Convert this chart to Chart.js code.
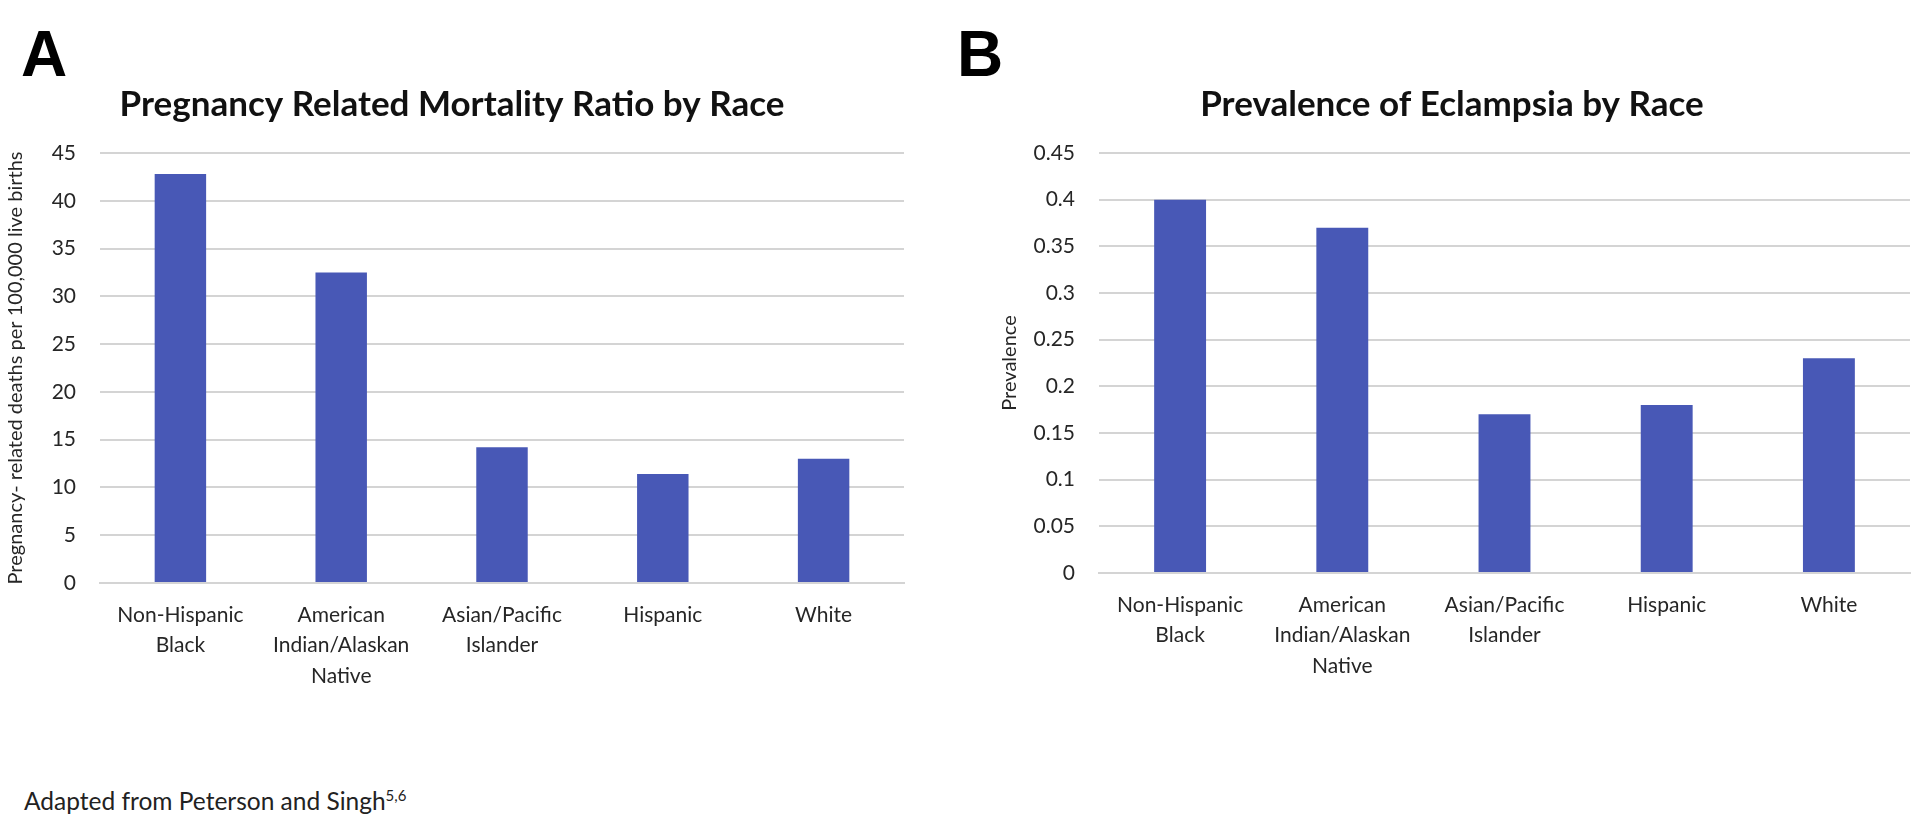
<!DOCTYPE html>
<html>
<head>
<meta charset="utf-8">
<script src="https://cdn.jsdelivr.net/npm/chart.js@4.4.0/dist/chart.umd.min.js"></script>
<style>
  html, body { margin: 0; padding: 0; background: #fff; }
  body { width: 1920px; height: 825px; position: relative; overflow: hidden; font-family: Lato, sans-serif; }
  .panel { position: absolute; }
  .letter { position: absolute; font-family: "Liberation Sans", Arial, sans-serif; font-weight: bold; font-size: 64px; color: #000; line-height: 1; }
  #note { position: absolute; left: 24px; top: 786px; font-size: 24.5px; color: #222; }
  #note sup { font-size: 15px; }
</style>
</head>
<body>
<div class="letter" style="left:21px; top:22px;">A</div>
<div class="letter" style="left:957px; top:22px;">B</div>
<div class="panel" style="left:0; top:0; width:920px; height:703px;"><canvas id="chartA"></canvas></div>
<div class="panel" style="left:960px; top:0; width:960px; height:693px;"><canvas id="chartB"></canvas></div>
<div id="note">Adapted from Peterson and Singh<sup>5,6</sup></div>

<script>
const racas = [
  ['Non-Hispanic', 'Black'],
  ['American', 'Indian/Alaskan', 'Native'],
  ['Asian/Pacific', 'Islander'],
  'Hispanic',
  'White'
];
const mortalidade = [42.8, 32.5, 14.2, 11.4, 13.0];
const eclampsia = [0.40, 0.37, 0.17, 0.18, 0.23];

const ticksA = [0, 5, 10, 15, 20, 25, 30, 35, 40, 45];
const ticksB = [0, 0.05, 0.1, 0.15, 0.2, 0.25, 0.3, 0.35, 0.4, 0.45];

const azul = '#4858b6';
const cinza = '#d4d4d4';

Chart.defaults.font.family = 'Lato, sans-serif';
Chart.defaults.color = '#262626';
Chart.defaults.animation = false;

function gerarGrafico(id, titulo, dados, marcas, eixoY, larguraY, padEsq, padDir) {
  const ctx = document.getElementById(id).getContext('2d');
  return new Chart(ctx, {
    type: 'bar',
    data: {
      labels: racas,
      datasets: [{
        data: dados,
        backgroundColor: azul,
        borderWidth: 0,
        categoryPercentage: 1,
        barPercentage: 0.32
      }]
    },
    options: {
      responsive: true,
      maintainAspectRatio: false,
      layout: { padding: { left: padEsq, right: padDir, top: 0, bottom: 0 } },
      plugins: {
        legend: { display: false },
        tooltip: { enabled: false },
        title: {
          display: true,
          text: titulo,
          color: '#111',
          font: { size: 35, weight: 'bold' },
          padding: { top: 84, bottom: 27 }
        }
      },
      scales: {
        x: {
          grid: { display: false, drawTicks: false },
          border: { display: true, color: cinza, width: 2 },
          ticks: {
            maxRotation: 0,
            autoSkip: false,
            padding: 17,
            color: '#262626',
            font: { size: 21, lineHeight: 1.45 }
          },
          afterFit: s => { s.height = 120; }
        },
        y: {
          min: 0,
          max: marcas[marcas.length - 1],
          afterBuildTicks: s => { s.ticks = marcas.map(v => ({ value: v })); },
          grid: { color: cinza, lineWidth: 2, drawTicks: false },
          border: { display: false },
          ticks: {
            padding: 24,
            color: '#262626',
            font: { size: 21 },
            callback: v => String(v)
          },
          title: {
            display: true,
            text: eixoY,
            color: '#262626',
            font: { size: 20 },
            padding: { top: 4, bottom: 4 }
          },
          afterFit: s => { s.width = larguraY; }
        }
      }
    }
  });
}

gerarGrafico('chartA', 'Pregnancy Related Mortality Ratio by Race', mortalidade, ticksA,
  'Pregnancy- related deaths per 100,000 live births', 100, 0, 16);
gerarGrafico('chartB', 'Prevalence of Eclampsia by Race', eclampsia, ticksB,
  'Prevalence', 105, 34, 10);
</script>
</body>
</html>
